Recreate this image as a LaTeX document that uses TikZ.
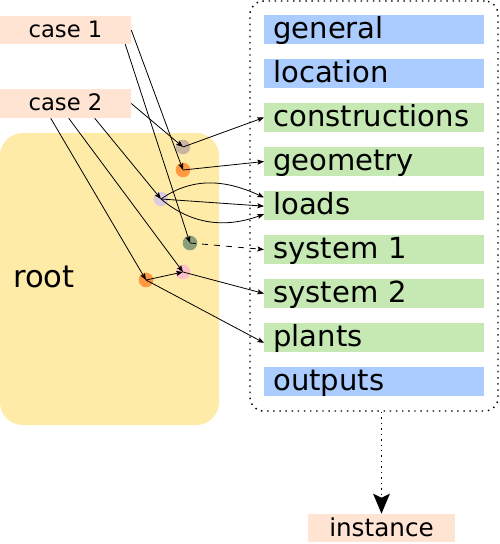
\documentclass[tikz,border=0pt]{standalone}
\usepackage{fontspec}
\setmainfont{DejaVu Sans}
\usetikzlibrary{arrows.meta}
\definecolor{lblue}{RGB}{170,204,255}
\definecolor{lgreen}{RGB}{198,233,180}
\definecolor{lsalmon}{RGB}{255,228,212}
\definecolor{lyellow}{RGB}{255,235,168}
\definecolor{dtan}{RGB}{200,182,158}
\definecolor{dorange}{RGB}{255,154,64}
\definecolor{dlav}{RGB}{220,202,222}
\definecolor{dolive}{RGB}{140,158,120}
\definecolor{dpink}{RGB}{255,192,203}
\begin{document}
\begin{tikzpicture}[x=0.75pt,y=-0.75pt,
  lbl/.style={rectangle, anchor=west, text width=151.5pt, inner xsep=6.75pt, inner ysep=0pt,
    minimum height=21.75pt, align=left, font=\fontsize{21.8}{25}\selectfont, text height=15.8pt, text depth=2.5pt},
  casebox/.style={rectangle, fill=lsalmon, minimum width=98.25pt, minimum height=21pt, inner sep=0pt,
    font=\fontsize{17}{20}\selectfont, text height=12.2pt, text depth=1pt},
  dot/.style={circle, inner sep=0pt, minimum size=11pt},
  arr/.style={-{Stealth[length=5pt,width=3.8pt,inset=1pt]}, line width=0.6pt},
  spdots/.style={line width=1.1pt, dash pattern=on 1.1pt off 3.5pt},
]
\useasboundingbox (0,0) rectangle (500,544);

% root box
\node[rectangle, fill=lyellow, rounded corners=17pt, minimum width=164.25pt, minimum height=219pt, inner sep=0pt] (root) at (109.5,279) {};
\node[anchor=west, inner sep=0pt, font=\fontsize{23}{27}\selectfont] (rootlbl) at (13,277) {root};

% cases
\node[casebox] (case1) at (65.5,30) {case 1};
\node[casebox, minimum height=21.75pt] (case2) at (65.5,103.5) {case 2};

% container
\node[rectangle, draw, spdots, rounded corners=10pt, minimum width=186pt, minimum height=307.5pt, inner sep=0pt] (cont) at (374,206) {};

% labels
\node[lbl, fill=lblue] (general) at (264,29.5) {general};
\node[lbl, fill=lblue] (location) at (264,73.5) {location};
\node[lbl, fill=lgreen] (constructions) at (264,117.5) {constructions};
\node[lbl, fill=lgreen] (geometry) at (264,161.5) {geometry};
\node[lbl, fill=lgreen] (loads) at (264,205.5) {loads};
\node[lbl, fill=lgreen] (system1) at (264,249.5) {system 1};
\node[lbl, fill=lgreen] (system2) at (264,293.5) {system 2};
\node[lbl, fill=lgreen] (plants) at (264,337.5) {plants};
\node[lbl, fill=lblue] (outputs) at (264,381.5) {outputs};

% instance
\node[rectangle, fill=lsalmon, minimum width=110.25pt, minimum height=21pt, inner sep=0pt,
  font=\fontsize{18.5}{22}\selectfont, text height=14pt, text depth=1pt] (inst) at (381.5,528) {instance};
\draw[spdots, dash pattern=on 1.1pt off 3pt, -{Stealth[length=15pt,width=12.5pt,inset=3pt]}] (inst.north |- cont.south) -- (inst.north);

% dots
\node[dot, fill=dtan] (d1) at (183,147) {};
\node[dot, fill=dorange] (d2) at (183,170) {};
\node[dot, fill=dlav] (d3) at (161,199) {};
\node[dot, fill=dolive] (d4) at (190,243) {};
\node[dot, fill=dpink] (d5) at (183,272) {};
\node[dot, fill=dorange] (d6) at (146,280) {};

% incoming
\draw[arr] (case2.east) -- (d1.center);
\draw[arr] (case1.east) -- (d2.center);
\draw[arr] ([xshift=-4.5pt]case1.south east) -- (d4.center);
\draw[arr] ([xshift=71.25pt]case2.south west) -- (d3.center);
\draw[arr] ([xshift=51.75pt]case2.south west) -- (d5.center);
\draw[arr] ([xshift=38.25pt]case2.south west) -- (d6.center);

% outgoing
\draw[arr] (d1.center) -- (constructions.west);
\draw[arr] (d2.center) -- (geometry.west);
\draw[arr] (d3.center) to[out=35, in=155] ([yshift=6pt]loads.west);
\draw[arr] (d3.center) -- ([yshift=-0.5pt]loads.west);
\draw[arr] (d3.center) to[out=-40, in=200] ([yshift=-6.5pt]loads.west);
\draw[arr, dashed, dash pattern=on 4.5pt off 4.5pt] (d4.center) -- (system1.west);
\draw[arr] (d5.center) -- (system2.west);
\draw[arr] (d6.center) -- (d5.center);
\draw[arr] (d6.center) -- ([yshift=-4pt]plants.west);
\end{tikzpicture}
\end{document}
